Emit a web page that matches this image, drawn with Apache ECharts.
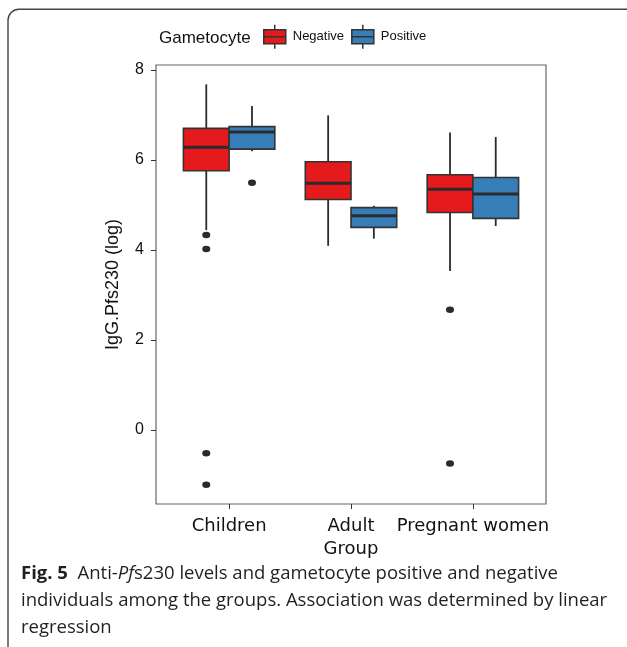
<!DOCTYPE html>
<html>
<head>
<meta charset="utf-8">
<script src="https://cdn.jsdelivr.net/npm/echarts@6.0.0/dist/echarts.min.js"></script>
<style>
  html, body { margin: 0; padding: 0; background: #fff; }
  #chart { width: 627px; height: 647px; }
</style>
</head>
<body>
<div id="chart"></div>
<script>
// groups on the x axis
const groups = ['Children', 'Adult', 'Pregnant women'];
const yTicks = [0, 2, 4, 6, 8];

// box stats per group: [lower whisker, Q1, median, Q3, upper whisker]
const negativeBoxes = [
  [4.44, 5.76, 6.28, 6.70, 7.68],
  [4.09, 5.12, 5.48, 5.96, 6.99],
  [3.53, 4.83, 5.35, 5.67, 6.61]
];
const positiveBoxes = [
  [6.19, 6.24, 6.62, 6.74, 7.20],
  [4.25, 4.50, 4.76, 4.94, 4.98],
  [4.53, 4.70, 5.24, 5.61, 6.51]
];

// outliers: [group index, value]
const negativeOutliers = [[0, 4.33], [0, 4.02], [0, -0.52], [0, -1.22], [2, 2.67], [2, -0.75]];
const positiveOutliers = [[0, 5.49]];

const RED = '#E41A1C';
const BLUE = '#377EB8';
const DODGE = 0.1875;
const BOX_W = 0.375;

function boxData(boxes, shift) {
  return boxes.map((b, i) => [i + shift].concat(b));
}

function renderBox(params, api) {
  const x = api.value(0);
  const half = api.size([BOX_W, 0])[0] / 2;
  const low = api.coord([x, api.value(1)]);
  const q1 = api.coord([x, api.value(2)]);
  const med = api.coord([x, api.value(3)]);
  const q3 = api.coord([x, api.value(4)]);
  const high = api.coord([x, api.value(5)]);
  const fill = api.visual('color');
  const line = { stroke: '#2b2b2b', lineWidth: 1.8 };
  return {
    type: 'group',
    children: [
      { type: 'line', shape: { x1: high[0], y1: high[1], x2: q3[0], y2: q3[1] }, style: line },
      { type: 'line', shape: { x1: low[0], y1: low[1], x2: q1[0], y2: q1[1] }, style: line },
      { type: 'rect', shape: { x: q3[0] - half, y: q3[1], width: half * 2, height: q1[1] - q3[1] },
        style: { fill: fill, stroke: '#333', lineWidth: 1.6 } },
      { type: 'line', shape: { x1: med[0] - half, y1: med[1], x2: med[0] + half, y2: med[1] },
        style: { stroke: '#2b2b2b', lineWidth: 3 } }
    ]
  };
}

const legendIcon = 'path://M0,5 L22,5 L22,19 L0,19 Z M0,12 L22,12 M11,0 L11,5 M11,19 L11,24';
const captionFont = 'Open Sans';
const captionSize = 18.5;
const captionLine = 26.7;

const chart = echarts.init(document.getElementById('chart'));
chart.setOption({
  animation: false,
  backgroundColor: '#fff',
  title: {
    text: 'Gametocyte',
    left: 154,
    top: 25,
    textStyle: { fontFamily: 'Liberation Sans', fontSize: 17, fontWeight: 'normal', color: '#111' }
  },
  legend: {
    left: 258,
    top: 19,
    itemWidth: 22,
    itemHeight: 24,
    itemGap: 7,
    icon: legendIcon,
    itemStyle: { borderColor: '#333', borderWidth: 1.5 },
    textStyle: { fontFamily: 'Liberation Sans', fontSize: 13, color: '#111', padding: [0, 0, 0, 2] },
    data: ['Negative', 'Positive']
  },
  grid: {
    left: 156,
    right: 81,
    top: 65,
    bottom: 143,
    show: true,
    borderColor: '#666',
    borderWidth: 1.2
  },
  xAxis: {
    type: 'value',
    min: -0.6,
    max: 2.6,
    name: 'Group',
    nameLocation: 'middle',
    nameGap: 33,
    nameTextStyle: { fontFamily: 'DejaVu Sans', fontSize: 18, color: '#111' },
    axisLine: { show: false, onZero: false },
    splitLine: { show: false },
    axisTick: { show: true, length: 5, lineStyle: { color: '#333' }, customValues: [0, 1, 2] },
    axisLabel: {
      customValues: [0, 1, 2],
      formatter: v => groups[Math.round(v)],
      margin: 13,
      fontFamily: 'DejaVu Sans',
      fontSize: 18,
      color: '#111'
    }
  },
  yAxis: {
    type: 'value',
    min: -1.65,
    max: 8.11,
    name: 'IgG.Pfs230 (log)',
    nameLocation: 'middle',
    nameGap: 34,
    nameTextStyle: { fontFamily: 'Liberation Sans', fontSize: 18, color: '#111' },
    axisLine: { show: false, onZero: false },
    splitLine: { show: false },
    axisTick: { show: true, length: 5, lineStyle: { color: '#333' }, customValues: yTicks },
    axisLabel: {
      customValues: yTicks,
      margin: 12,
      fontFamily: 'Liberation Sans',
      fontSize: 16,
      color: '#111'
    }
  },
  graphic: [
    {
      type: 'rect',
      shape: { x: 8, y: 9.3, width: 660, height: 680, r: 11 },
      style: { fill: 'none', stroke: '#444', lineWidth: 1.4 },
      z: 100
    },
    {
      type: 'text',
      x: 21,
      y: 560.5,
      style: {
        text: '{b|Fig. 5}  Anti-{i|Pf}s230 levels and gametocyte positive and negative\n' +
              'individuals among the groups. Association was determined by linear\n' +
              'regression',
        fontFamily: captionFont,
        fontSize: captionSize,
        lineHeight: captionLine,
        fill: '#231f20',
        rich: {
          b: { fontWeight: 'bold', fontFamily: captionFont, fontSize: captionSize, lineHeight: captionLine, fill: '#231f20' },
          i: { fontStyle: 'italic', fontFamily: captionFont, fontSize: captionSize, lineHeight: captionLine, fill: '#231f20' }
        }
      }
    }
  ],
  series: [
    {
      name: 'Negative',
      type: 'custom',
      itemStyle: { color: RED },
      renderItem: renderBox,
      encode: { x: 0, y: [1, 2, 3, 4, 5] },
      data: boxData(negativeBoxes, -DODGE)
    },
    {
      name: 'Positive',
      type: 'custom',
      itemStyle: { color: BLUE },
      renderItem: renderBox,
      encode: { x: 0, y: [1, 2, 3, 4, 5] },
      data: boxData(positiveBoxes, DODGE)
    },
    {
      type: 'scatter',
      symbol: 'circle',
      symbolSize: [8, 6.5],
      itemStyle: { color: '#2b2b2b', opacity: 1 },
      data: negativeOutliers.map(o => [o[0] - DODGE, o[1]])
    },
    {
      type: 'scatter',
      symbol: 'circle',
      symbolSize: [8, 6.5],
      itemStyle: { color: '#2b2b2b', opacity: 1 },
      data: positiveOutliers.map(o => [o[0] + DODGE, o[1]])
    }
  ]
});
</script>
</body>
</html>
